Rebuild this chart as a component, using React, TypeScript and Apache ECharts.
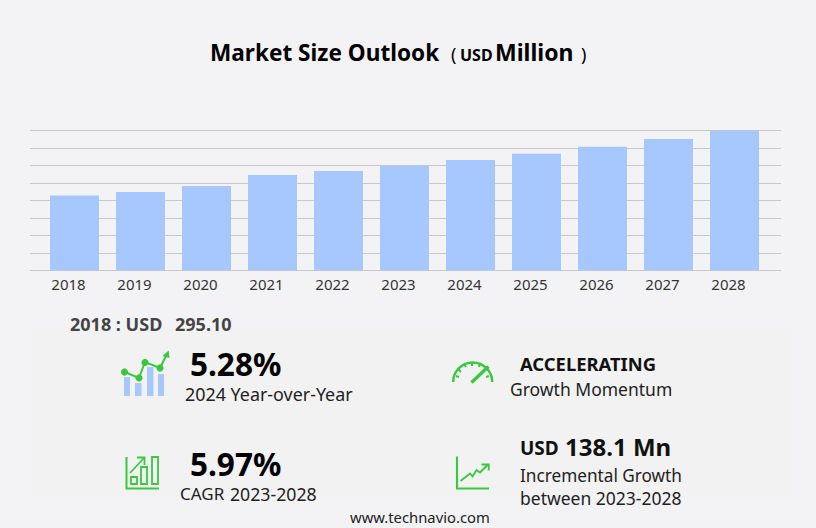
import React, { useEffect, useRef } from "react";
import * as echarts from "echarts";

const categories = ["2018","2019","2020","2021","2022","2023","2024","2025","2026","2027","2028"];
const marketSize = [295.1,308,332,375,391,412,434,459,486,517,550.1];
const yMax = 550;
const yInterval = 68.75;
const GREEN = "#3ac73f";
const BAR = "#a6c8ff";
const F = "'Noto Sans', sans-serif";

const txt = (x: number, y: number, text: string, size: number, weight: string, fill = "#111", extra: any = {}) => ({
  type: "text", x, y, silent: true,
  style: { text, fontFamily: F, fontSize: size, fontWeight: weight, fill, textVerticalAlign: "middle", ...extra },
});
const pl = (points: number[][], w = 2, color = GREEN) => ({
  type: "polyline", silent: true, shape: { points }, style: { stroke: color, lineWidth: w, fill: "none" },
});
const box = (x: number, y: number, width: number, height: number, w = 1.6) => ({
  type: "rect", silent: true, shape: { x, y, width, height }, style: { stroke: GREEN, lineWidth: w, fill: "none" },
});
const solid = (x: number, y: number, width: number, height: number, fill: string) => ({
  type: "rect", silent: true, shape: { x, y, width, height }, style: { fill },
});
const dot = (cx: number, cy: number, r = 3.6) => ({
  type: "circle", silent: true, shape: { cx, cy, r }, style: { fill: GREEN },
});

export default function App() {
  const ref = useRef<HTMLDivElement>(null);
  useEffect(() => {
    document.body.style.margin = "0";
    const chart = echarts.init(ref.current!, undefined, { renderer: "svg" });
    chart.setOption({
      animation: false,
      backgroundColor: "#f3f3f6",
      grid: [
        { left: 30, width: 751, top: 130.5, height: 140 },
        { left: 41.5, width: 726, top: 130.5, height: 140 },
      ],
      xAxis: [
        { gridIndex: 0, type: "category", data: categories, show: false },
        {
          gridIndex: 1, type: "category", data: categories, boundaryGap: true,
          axisLine: { show: false }, axisTick: { show: false },
          axisLabel: { color: "#333", fontFamily: F, fontSize: 15, margin: 6, padding: [0, 12, 0, 0], interval: 0 },
        },
      ],
      yAxis: [
        {
          gridIndex: 0, type: "value", min: 0, max: yMax, interval: yInterval,
          axisLabel: { show: false }, axisLine: { show: false }, axisTick: { show: false },
          splitLine: { show: true, lineStyle: { color: "#c8c8c8", width: 1 } },
        },
        {
          gridIndex: 1, type: "value", min: 0, max: yMax, interval: yInterval,
          axisLabel: { show: false }, axisLine: { show: false }, axisTick: { show: false },
          splitLine: { show: false },
        },
      ],
      series: [
        {
          type: "bar", xAxisIndex: 1, yAxisIndex: 1, data: marketSize, barWidth: 49,
          itemStyle: { color: BAR }, silent: true,
        },
      ],
      graphic: [
        { type: "group", silent: true, children: [
          solid(31, 329, 761, 167, "#f2f2f3"),
          txt(210, 52, "Market Size Outlook", 22.6, "bold", "#000"),
          txt(451, 54, "(", 18, "normal", "#000"),
          txt(460, 55, "USD", 16, "bold", "#000"),
          txt(495, 52, "Million", 23, "bold", "#000"),
          txt(581, 54, ")", 18, "normal", "#000"),
          txt(70, 323.5, "2018 : USD", 18, "bold", "#444"),
          txt(175, 323.5, "295.10", 18, "bold", "#444"),
          txt(190, 363, "5.28%", 31.5, "bold", "#000"),
          txt(185, 393.5, "2024 Year-over-Year", 17.9, "normal", "#222"),
          txt(190, 463, "5.97%", 31.5, "bold", "#000"),
          txt(180, 493.5, "CAGR", 17, "normal", "#222"),
          txt(230, 493.5, "2023-2028", 17.7, "normal", "#222"),
          txt(520, 363, "ACCELERATING", 18.4, "bold", "#111"),
          txt(510, 388.5, "Growth Momentum", 17.5, "normal", "#222"),
          txt(520, 448, "USD", 19, "bold", "#111"),
          txt(565, 446.5, "138.1 Mn", 24, "bold", "#111"),
          txt(520, 475.5, "Incremental Growth", 17.2, "normal", "#222"),
          txt(520, 497.5, "between 2023-2028", 17.5, "normal", "#222"),
          txt(350, 516.5, "www.technavio.com", 14.8, "normal", "#222"),
          // icon: year-over-year
          solid(124, 377, 6, 19, BAR), solid(135, 383, 6.5, 13, BAR), solid(147, 367, 6.5, 29, BAR), solid(158, 374, 6, 22, BAR),
          pl([[124.5,372],[139,378],[145,362],[160,368],[167,354]], 2),
          dot(124.5,372), dot(139,378), dot(145,362.5), dot(160,368),
          { type: "polygon", silent: true, shape: { points: [[162.5,356],[168.7,350.5],[169.5,358]] }, style: { fill: GREEN } },
          // icon: CAGR
          pl([[126.5,457],[126.5,488.5],[159,488.5]], 2),
          box(131,477,6,7,1.8), box(141,467,6,17,1.8), box(152,457,6,27,1.8),
          pl([[130,473],[144,458]], 1.8), pl([[137,457.5],[144.5,457.5],[144.5,465]], 1.8),
          // icon: gauge
          { type: "arc", silent: true, shape: { cx: 472.7, cy: 382, r: 19.5, startAngle: Math.PI * 1.0, endAngle: Math.PI * 2.0 },
            style: { stroke: GREEN, lineWidth: 2.4, fill: "none" } },
          pl([[458,369],[461,372]], 2), pl([[472,362],[472,366]], 2), pl([[464,364],[466,367]], 2), pl([[480,364],[479,367]], 2),
          pl([[456,376],[459,377]], 2), pl([[489,376],[486,377]], 2),
          pl([[471.5,382.5],[488.5,366.5]], 3.4),
          // icon: incremental growth
          pl([[457,456.5],[457,488.5],[489,488.5]], 2.1),
          pl([[460.5,481],[470,473.5],[472.5,476.5],[476.5,470],[480,472.5],[488,464.5]], 1.9),
          pl([[481.5,464.5],[488.7,464.5],[488.7,470.5]], 1.9),
        ] },
      ],
    });
    return () => chart.dispose();
  }, []);
  return <div ref={ref} style={{ position: "absolute", left: 0, top: 0, width: 816, height: 528 }} />;
}
